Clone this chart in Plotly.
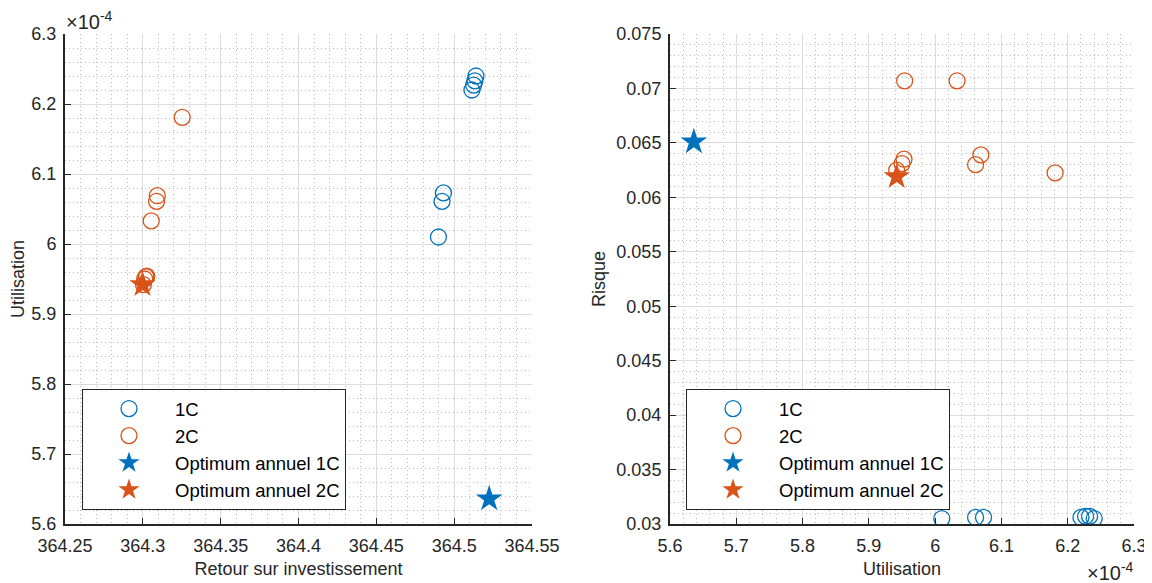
import plotly.graph_objects as go

# ---------------- data ----------------
# Utilisation values are expressed in units of 1e-4
roi_1c = [364.5140, 364.5133, 364.5125, 364.5114, 364.4931, 364.4922, 364.4899]
util_1c = [6.240, 6.233, 6.227, 6.220, 6.073, 6.061, 6.010]
risk_1c = [0.0305, 0.0307, 0.0307, 0.0306, 0.0306, 0.0306, 0.0305]

roi_2c = [364.3253, 364.3093, 364.3088, 364.3054, 364.3025, 364.3020, 364.3012, 364.3004]
util_2c = [6.181, 6.069, 6.061, 6.033, 5.954, 5.953, 5.950, 5.942]
risk_2c = [0.06225, 0.0639, 0.0630, 0.0707, 0.0707, 0.0635, 0.0631, 0.0625]

roi_opt_1c = [364.5225]
util_opt_1c = [5.636]
risk_opt_1c = [0.0651]

roi_opt_2c = [364.2998]
util_opt_2c = [5.942]
risk_opt_2c = [0.0619]

names = ["1C", "2C", "Optimum annuel 1C", "Optimum annuel 2C"]

roi_ticks = [364.25, 364.3, 364.35, 364.4, 364.45, 364.5, 364.55]
roi_ticktext = ["364.25", "364.3", "364.35", "364.4", "364.45", "364.5", "364.55"]
util_ticks = [5.6, 5.7, 5.8, 5.9, 6.0, 6.1, 6.2, 6.3]
util_ticktext = ["5.6", "5.7", "5.8", "5.9", "6", "6.1", "6.2", "6.3"]
risk_ticks = [0.03, 0.035, 0.04, 0.045, 0.05, 0.055, 0.06, 0.065, 0.07, 0.075]
risk_ticktext = ["0.03", "0.035", "0.04", "0.045", "0.05", "0.055", "0.06", "0.065", "0.07", "0.075"]

BLUE = "#0072BD"
ORANGE = "#D95319"
AX = "#262626"
FONT = "Liberation Sans, Arial, sans-serif"
FS = 18

OFF = 8  # default page body margin
W, H = 1152 - OFF, 583 - OFF


def px_x(p):
    return (p - OFF) / W


def px_y(p):
    return 1 - (p - OFF) / H


fig = go.Figure()

circle_size = 16
star_size = 20


def add_set(xs, ys, xa, ya, leg):
    data = [
        (xs[0], ys[0], names[0], BLUE, "circle-open"),
        (xs[1], ys[1], names[1], ORANGE, "circle-open"),
        (xs[2], ys[2], names[2], BLUE, "star"),
        (xs[3], ys[3], names[3], ORANGE, "star"),
    ]
    for x, y, n, c, sym in data:
        if sym == "circle-open":
            marker = dict(symbol=sym, size=circle_size, color=c, line=dict(color=c, width=1.3))
        else:
            marker = dict(symbol=sym, size=star_size, color=c, line=dict(color=c, width=0))
        fig.add_trace(go.Scatter(x=x, y=y, mode="markers", name=n, marker=marker,
                                 xaxis=xa, yaxis=ya, legend=leg, showlegend=True))


add_set([roi_1c, roi_2c, roi_opt_1c, roi_opt_2c],
        [util_1c, util_2c, util_opt_1c, util_opt_2c], "x", "y", "legend")
add_set([util_1c, util_2c, util_opt_1c, util_opt_2c],
        [risk_1c, risk_2c, risk_opt_1c, risk_opt_2c], "x2", "y2", "legend2")


def axis(rng, tv, tt, minor_dtick, domain, anchor, title, standoff, lblstand):
    return dict(
        range=rng, domain=domain, anchor=anchor,
        tickmode="array", tickvals=tv, ticktext=tt,
        showline=True, linecolor=AX, linewidth=2,
        ticks="inside", ticklen=6, tickwidth=1.2, tickcolor=AX,
        ticklabelstandoff=lblstand,
        showgrid=True, gridcolor="#dcdcdc", gridwidth=1,
        zeroline=False, automargin=False,
        minor=dict(dtick=minor_dtick, tick0=rng[0], showgrid=True, gridcolor="#bdbdbd",
                   griddash="1px,3px", gridwidth=1, ticks=""),
        tickfont=dict(family=FONT, size=FS, color=AX),
        title=dict(text=title, font=dict(family=FONT, size=FS, color=AX), standoff=standoff),
    )


ydom = [px_y(524), px_y(34)]
leg_common = dict(xanchor="left", yanchor="top", bgcolor="white", bordercolor=AX,
                  borderwidth=1, font=dict(family=FONT, size=18.5, color="black"),
                  itemwidth=82)
fig.update_layout(
    width=W, height=H,
    margin=dict(l=0, r=0, t=0, b=0),
    paper_bgcolor="white", plot_bgcolor="white",
    font=dict(family=FONT, size=FS, color=AX),
    xaxis=axis([364.25, 364.55], roi_ticks, roi_ticktext, 0.01,
               [px_x(65), px_x(532)], "y", "Retour sur investissement", 8, 4),
    yaxis=axis([5.6, 6.3], util_ticks, util_ticktext, 0.02,
               ydom, "x", "Utilisation", 6, 3),
    xaxis2=axis([5.6, 6.3], util_ticks, util_ticktext, 0.02,
                [px_x(670), px_x(1134)], "y2", "Utilisation", 8, 4),
    yaxis2=axis([0.03, 0.075], risk_ticks, risk_ticktext, 0.001,
                ydom, "x2", "Risque", 6, 3),
    legend=dict(x=px_x(82), y=px_y(389), **leg_common),
    legend2=dict(x=px_x(686), y=px_y(389), **leg_common),
    annotations=[
        dict(text="×10<sup>-4</sup>", x=px_x(64), y=px_y(20), xref="paper", yref="paper",
             xanchor="left", yanchor="middle", showarrow=False,
             font=dict(family=FONT, size=20, color=AX)),
        dict(text="×10<sup>-4</sup>", x=px_x(1136), y=px_y(571), xref="paper", yref="paper",
             xanchor="right", yanchor="middle", showarrow=False,
             font=dict(family=FONT, size=20, color=AX)),
    ],
)

fig.write_html("out.html")
